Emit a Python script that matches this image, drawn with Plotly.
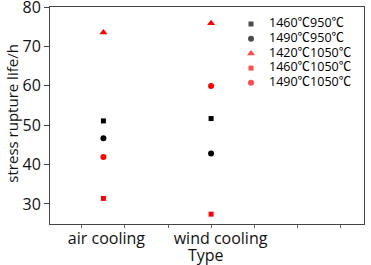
import plotly.graph_objects as go

# category positions on a numeric x axis (Origin-style layout)
categories = ["air cooling", "wind cooling"]
cat_x = [1.0, 3.5]
label_x = [1.07, 3.72]
minor_ticks = [0.5, 1.5, 2.5, 3.5, 4.5, 5.5, 6.5]
y_ticks = [30, 40, 50, 60, 70, 80]

series_names = ["1460℃950℃", "1490℃950℃", "1420℃1050℃", "1460℃1050℃", "1490℃1050℃"]
life_1460_950 = [51.1, 51.7]
life_1490_950 = [46.7, 42.8]
life_1420_1050 = [73.6, 75.9]
life_1460_1050 = [31.4, 27.4]
life_1490_1050 = [41.9, 60.0]

series_values = [life_1460_950, life_1490_950, life_1420_1050, life_1460_1050, life_1490_1050]
series_colors = ["black", "black", "red", "red", "red"]
series_symbols = ["square", "circle", "triangle-up", "square", "circle"]
series_sizes = [5, 6, 7, 5, 6]

# plot area in pixels (used for the hand-made legend on an overlay axis)
W, H = 371, 265
L, R, T, B = 50, 364, 7, 224
leg_sym_x, leg_txt_x = 251, 269
leg_y0, leg_dy = 24, 14.7

fig = go.Figure()
for name, vals, col, sym, sz in zip(series_names, series_values, series_colors, series_symbols, series_sizes):
    fig.add_trace(go.Scatter(
        x=cat_x, y=vals, mode="markers", name=name, showlegend=False,
        marker=dict(color=col, symbol=sym, size=sz, line=dict(width=0)),
    ))

# legend, drawn on a hidden pixel-scaled overlay axis so row spacing matches
leg_rows = [leg_y0 + i * leg_dy for i in range(len(series_names))]
fig.add_trace(go.Scatter(
    x=[leg_sym_x] * len(series_names), y=leg_rows, mode="markers",
    xaxis="x2", yaxis="y2", showlegend=False, hoverinfo="skip",
    marker=dict(color=series_colors, symbol=series_symbols, size=series_sizes, line=dict(width=0)),
))
fig.add_trace(go.Scatter(
    x=[leg_txt_x] * len(series_names), y=leg_rows, mode="text",
    text=series_names, textposition="middle right",
    textfont=dict(size=12.5, family="'Open Sans', 'Noto Sans CJK SC', sans-serif", color="black"),
    xaxis="x2", yaxis="y2", showlegend=False, hoverinfo="skip",
))

fnt = "'Open Sans', sans-serif"
fig.update_layout(
    width=W, height=H,
    margin=dict(l=L, r=W - R, t=T, b=H - B),
    paper_bgcolor="white", plot_bgcolor="white",
    font=dict(family=fnt, color="#111", size=16),
    showlegend=False,
    xaxis=dict(
        range=[-0.24, 7.05], showgrid=False, zeroline=False, automargin=False,
        showline=True, linecolor="#444", linewidth=1, mirror=True,
        tickvals=label_x, ticktext=categories, ticks="", ticklen=0,
        tickfont=dict(size=16),
        minor=dict(tickvals=minor_ticks, ticks="outside", ticklen=3, tickcolor="#666"),
    ),
    yaxis=dict(
        range=[24.9, 80.05], showgrid=False, zeroline=False, automargin=False,
        showline=True, linecolor="#444", linewidth=1, mirror=True,
        tickvals=y_ticks, ticks="outside", ticklen=5, tickcolor="#444",
        tickfont=dict(size=16), ticklabeloverflow="allow",
    ),
    xaxis2=dict(range=[L, R], domain=[0, 1], overlaying="x", visible=False, fixedrange=True),
    yaxis2=dict(range=[B, T], domain=[0, 1], overlaying="y", visible=False, fixedrange=True),
    annotations=[
        dict(
            text="stress rupture life/h", textangle=-90,
            xref="paper", yref="paper", x=-0.12, y=0.51,
            xanchor="center", yanchor="middle", showarrow=False,
            font=dict(size=15, family=fnt, color="#111"),
        ),
        dict(
            text="Type", xref="paper", yref="paper", x=0.497, y=-0.145,
            xanchor="center", yanchor="middle", showarrow=False,
            font=dict(size=16, family=fnt, color="#111"),
        ),
    ],
)

fig.write_html("out.html", config={"displayModeBar": False},
               post_script="document.body.style.margin='0';")
